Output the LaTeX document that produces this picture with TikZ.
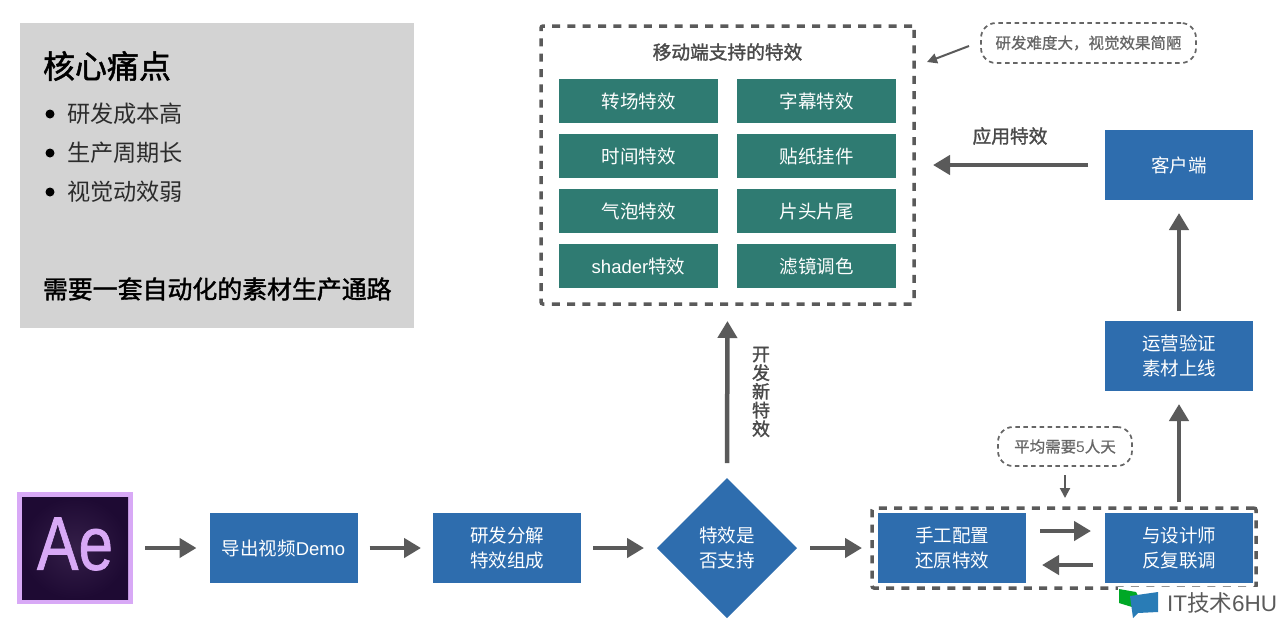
\documentclass[tikz,border=0pt]{standalone}
\usepackage{fontspec}
\usepackage{graphicx}
\setmainfont{Noto Sans CJK SC}
\newfontfamily\med[FakeBold=0.8]{Noto Sans CJK SC}
\newfontfamily\hvy[FakeBold=1.6]{Noto Sans CJK SC}
\newfontfamily\lat{Liberation Sans}
\newfontfamily\aefont[FakeBold=1]{Liberation Sans}
\usetikzlibrary{shapes.geometric,arrows.meta}
\definecolor{blueb}{HTML}{2E6DAE}
\definecolor{greenb}{HTML}{2F7B72}
\definecolor{arrowc}{HTML}{5A5A5A}
\definecolor{textc}{HTML}{4A4A4A}
\definecolor{notec}{HTML}{666666}
\definecolor{panelc}{HTML}{D3D3D3}
\definecolor{aelight}{HTML}{D8A9F6}
\definecolor{aedark}{HTML}{1E0A33}
\tikzset{
  x=1pt,y=-1pt,
  every node/.style={inner sep=0pt,outer sep=0pt,align=center},
  bluebox/.style={fill=blueb,text=white,minimum width=148pt,minimum height=70pt,font=\fontsize{18.5}{24.5}\selectfont},
  greenbox/.style={fill=greenb,text=white,minimum width=159pt,minimum height=44pt,font=\fontsize{18.5}{24}\selectfont},
  arr/.style={draw=arrowc,line width=4.5pt,-{Triangle[length=17pt,width=19pt]}},
  thinarr/.style={draw=arrowc,line width=2pt,-{Triangle[length=10pt,width=10pt]}},
  dashbox/.style={draw=arrowc,line width=3.5pt,dash pattern=on 8pt off 7.3pt,fill=none},
  notebox/.style={draw=notec,line width=1.7pt,dash pattern=on 4.5pt off 3.6pt,rounded corners=15pt,text=notec,font=\fontsize{15.5}{20}\med\selectfont},
  plain/.style={text=textc},
}
\begin{document}
\begin{tikzpicture}
\useasboundingbox (0,0) rectangle (1280,622);
\fill[white] (0,0) rectangle (1280,622);

% core pain panel
\node[fill=panelc,minimum width=394pt,minimum height=305pt] (panel) at (217,175.5) {};
\node[anchor=west,text=black,font=\fontsize{32}{38}\hvy\selectfont] (title) at (43,66) {核心痛点};
\foreach \n/\y/\t in {a/114/研发成本高,b/153/生产周期长,c/192/视觉动效弱}{
  \node[circle,fill=black,minimum size=9pt] (dot\n) at (50,\y) {};
  \node[anchor=west,text=textc!60!black,font=\fontsize{23.2}{28}\selectfont] (item\n) at (67,\y) {\t};
}
\node[anchor=west,text=black,font=\fontsize{24.9}{30}\hvy\selectfont] (need) at (43,289) {需要一套自动化的素材生产通路};

% supported effects
\node[dashbox,minimum width=373pt,minimum height=278pt,rounded corners=2pt] (effects) at (727.5,165) {};
\node[plain,font=\fontsize{18.7}{24}\hvy\selectfont] (effectstitle) at (727.5,52) {移动端支持的特效};
\foreach \n/\x/\y/\t in {
  e1/638.5/101/转场特效,e2/816.5/101/字幕特效,
  e3/638.5/156/时间特效,e4/816.5/156/贴纸挂件,
  e5/638.5/211/气泡特效,e6/816.5/211/片头片尾,
  e7/638.5/266/{{\lat shader}特效},e8/816.5/266/滤镜调色}{
  \node[greenbox] (\n) at (\x,\y) {\t};
}
\node[notebox,minimum width=215pt,minimum height=40pt] (note1) at (1088.5,43) {研发难度大，视觉效果简陋};
\coordinate (note1end) at (927,62);
\draw[thinarr] (note1.west)++(-12,3) -- (note1end);

% bottom row
\node[fill=aelight,minimum width=116pt,minimum height=112pt] (aeouter) at (75,548) {};
\node[inner color=aedark!85!aelight!90!black,outer color=aedark,minimum width=106pt,minimum height=102pt] (aeinner) at (75,548) {};
\node[text=aelight,font=\fontsize{76}{78}\aefont\selectfont] (ae) at (75,544) {\scalebox{0.82}[1]{Ae}};

\node[bluebox] (export) at (283.5,548) {导出视频{\lat Demo}};
\node[bluebox] (split) at (507,548) {研发分解\\特效组成};
\node[diamond,fill=blueb,text=white,minimum width=140pt,minimum height=140pt,aspect=1] (decide) at (727,548) {};
\node[text=white,font=\fontsize{18.5}{24.5}\selectfont] (decidet) at (727,548) {特效是\\否支持};
\node[dashbox,minimum width=384pt,minimum height=80pt,rounded corners=2pt] (group) at (1064,548) {};
\node[bluebox] (manual) at (952,548) {手工配置\\还原特效};
\node[bluebox] (design) at (1179,548) {与设计师\\反复联调};
\node[bluebox] (ops) at (1179,356) {运营验证\\素材上线};
\node[bluebox] (client) at (1179,165) {客户端};
\node[notebox,minimum width=134pt,minimum height=39pt] (note2) at (1065,446.5) {平均需要{\lat 5}人天};

% connectors
\draw[arr,shorten <=12pt,shorten >=13pt] (aeouter.east) -- (export.west);
\draw[arr,shorten <=12pt,shorten >=12pt] (export.east) -- (split.west);
\draw[arr,shorten <=12pt,shorten >=13pt] (split.east) -- (decide.west);
\draw[arr,shorten <=13pt,shorten >=10pt] (decide.east) -- (group.west);
\draw[arr,shorten <=15pt,shorten >=17pt] (decide.north) -- (effects.south);
\draw[arr,shorten <=17pt,shorten >=19pt] (client.west) -- (effects.east |- client.west);
\draw[arr,shorten <=10pt,shorten >=13pt] (ops.north) -- (client.south);
\draw[arr,shorten <=6pt,shorten >=13pt] (group.north -| design.north) -- (ops.south);
\draw[arr,shorten <=14pt,shorten >=14pt] ([yshift=17pt]manual.east) -- ([yshift=17pt]design.west);
\draw[arr,shorten <=12pt,shorten >=16pt] ([yshift=-17pt]design.west) -- ([yshift=-17pt]manual.east);
\draw[thinarr,shorten <=9pt,shorten >=10pt] (note2.south) -- (group.north -| note2.south);

% labels
\node[plain,font=\fontsize{18.7}{24}\hvy\selectfont] (apply) at (1010,136) {应用特效};
\node[plain,font=\fontsize{18}{18.7}\hvy\selectfont,text width=20pt] (dev) at (761,392) {开\\发\\新\\特\\效};

% watermark
\fill[white] (1118,587) rectangle (1280,622);
\fill[green!60!black!85!cyan] (1119,589) -- (1136,592) -- (1140,600) -- (1132,607) -- (1119,603) -- cycle;
\fill[blueb!90!cyan] (1130,596) -- (1158,592) -- (1158,612) -- (1138,613) -- (1133,618) -- cycle;
\node[anchor=west,text=arrowc,font=\fontsize{22.5}{26}\selectfont] (wm) at (1167,603) {{\lat IT}技术{\lat 6HU}};
\end{tikzpicture}
\end{document}
